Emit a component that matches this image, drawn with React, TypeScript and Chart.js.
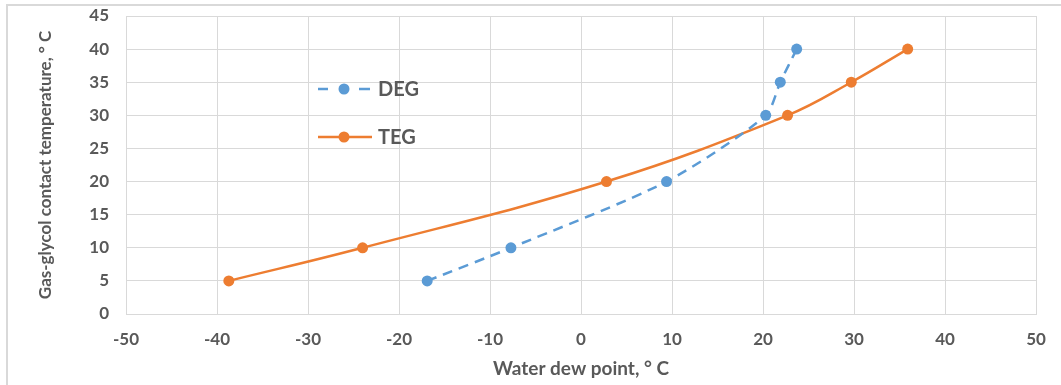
import React, { useEffect, useRef } from "react";
import { Chart, registerables } from "chart.js";
Chart.register(...registerables);

// Data
const degDewPoint = [-16.9, -7.7, 9.4, 20.3, 21.9, 23.7];
const degContactTemp = [5, 10, 20, 30, 35, 40];
const tegDewPoint = [-38.7, -24.0, 2.8, 22.7, 29.7, 35.9];
const tegContactTemp = [5, 10, 20, 30, 35, 40];
const seriesNames = ["DEG", "TEG"];
const xAxisTitle = "Water dew point, ° C";
const yAxisTitle = "Gas-glycol contact temperature, ° C";
const xTicks = { min: -50, max: 50, step: 10 };
const yTicks = { min: 0, max: 45, step: 5 };

const BLUE = "#5B9BD5";
const ORANGE = "#ED7D31";
const GRID = "#D9D9D9";
const TEXT = "#595959";
const FONT = "Lato, 'Open Sans', sans-serif";

const legendPlugin = {
  id: "customLegend",
  afterDatasetsDraw(chart: any) {
    const ctx = chart.ctx as CanvasRenderingContext2D;
    const items = [
      { label: seriesNames[0], color: BLUE, dashed: true, y: 89 },
      { label: seriesNames[1], color: ORANGE, dashed: false, y: 137 },
    ];
    ctx.save();
    for (const it of items) {
      ctx.strokeStyle = it.color;
      ctx.fillStyle = it.color;
      ctx.lineWidth = 2.5;
      ctx.setLineDash([]);
      ctx.beginPath();
      if (it.dashed) {
        ctx.moveTo(318, it.y);
        ctx.lineTo(328, it.y);
        ctx.moveTo(359, it.y);
        ctx.lineTo(370, it.y);
      } else {
        ctx.moveTo(318, it.y);
        ctx.lineTo(372, it.y);
      }
      ctx.stroke();
      ctx.beginPath();
      ctx.arc(344, it.y, 5.5, 0, Math.PI * 2);
      ctx.fill();
      ctx.fillStyle = TEXT;
      ctx.font = `bold 20px ${FONT}`;
      ctx.textBaseline = "middle";
      ctx.textAlign = "left";
      ctx.fillText(it.label, 378, it.y + 1);
    }
    ctx.restore();
  },
};

export default function App() {
  const canvasRef = useRef<HTMLCanvasElement | null>(null);

  useEffect(() => {
    if (!canvasRef.current) return;
    const chart = new Chart(canvasRef.current, {
      type: "scatter",
      data: {
        datasets: [
          {
            label: seriesNames[0],
            data: degDewPoint.map((x, i) => ({ x, y: degContactTemp[i] })),
            showLine: true,
            borderColor: BLUE,
            backgroundColor: BLUE,
            borderWidth: 2.5,
            borderDash: [10, 7],
            pointRadius: 5.5,
            pointBorderWidth: 0,
            tension: 0.25,
          },
          {
            label: seriesNames[1],
            data: tegDewPoint.map((x, i) => ({ x, y: tegContactTemp[i] })),
            showLine: true,
            borderColor: ORANGE,
            backgroundColor: ORANGE,
            borderWidth: 2.5,
            pointRadius: 5.5,
            pointBorderWidth: 0,
            tension: 0.4,
          },
        ],
      },
      options: {
        animation: false,
        responsive: false,
        maintainAspectRatio: false,
        layout: { padding: { left: 0, right: 25, top: 16, bottom: 0 } },
        plugins: {
          legend: { display: false },
          tooltip: { enabled: false },
        },
        scales: {
          x: {
            type: "linear",
            min: xTicks.min,
            max: xTicks.max,
            ticks: {
              stepSize: xTicks.step,
              color: TEXT,
              font: { family: FONT, size: 17, weight: "bold" },
              padding: 15,
            },
            grid: { color: GRID, lineWidth: 1, drawTicks: false },
            border: { color: GRID, width: 1 },
            title: {
              display: true,
              text: xAxisTitle,
              color: TEXT,
              font: { family: FONT, size: 19, weight: "bold" },
              padding: { top: 4, bottom: 5 },
            },
            afterFit(scale: any) {
              scale.height = 71;
              scale.paddingLeft = 0;
              scale.paddingRight = 0;
            },
          },
          y: {
            type: "linear",
            min: yTicks.min,
            max: yTicks.max,
            ticks: {
              stepSize: yTicks.step,
              color: TEXT,
              font: { family: FONT, size: 17, weight: "bold" },
              padding: 17,
            },
            grid: { color: GRID, lineWidth: 1, drawTicks: false },
            border: { color: GRID, width: 1 },
            title: {
              display: true,
              text: yAxisTitle,
              color: TEXT,
              font: { family: FONT, size: 17, weight: "bold" },
              padding: { top: 35, bottom: 0 },
            },
            afterFit(scale: any) {
              scale.width = 126;
              scale.paddingTop = 0;
              scale.paddingBottom = 0;
            },
          },
        },
      },
      plugins: [legendPlugin],
    });
    return () => chart.destroy();
  }, []);

  return (
    <div
      style={{
        position: "fixed",
        left: 0,
        top: 0,
        width: 1061,
        height: 385,
        overflow: "hidden",
        background: "#fff",
      }}
    >
      <div
        style={{
          position: "absolute",
          left: 6,
          top: 4,
          width: 1200,
          height: 600,
          border: "2px solid #D9D9D9",
        }}
      />
      <canvas
        ref={canvasRef}
        width={1061}
        height={385}
        style={{ position: "absolute", left: 0, top: 0, width: 1061, height: 385 }}
      />
    </div>
  );
}
